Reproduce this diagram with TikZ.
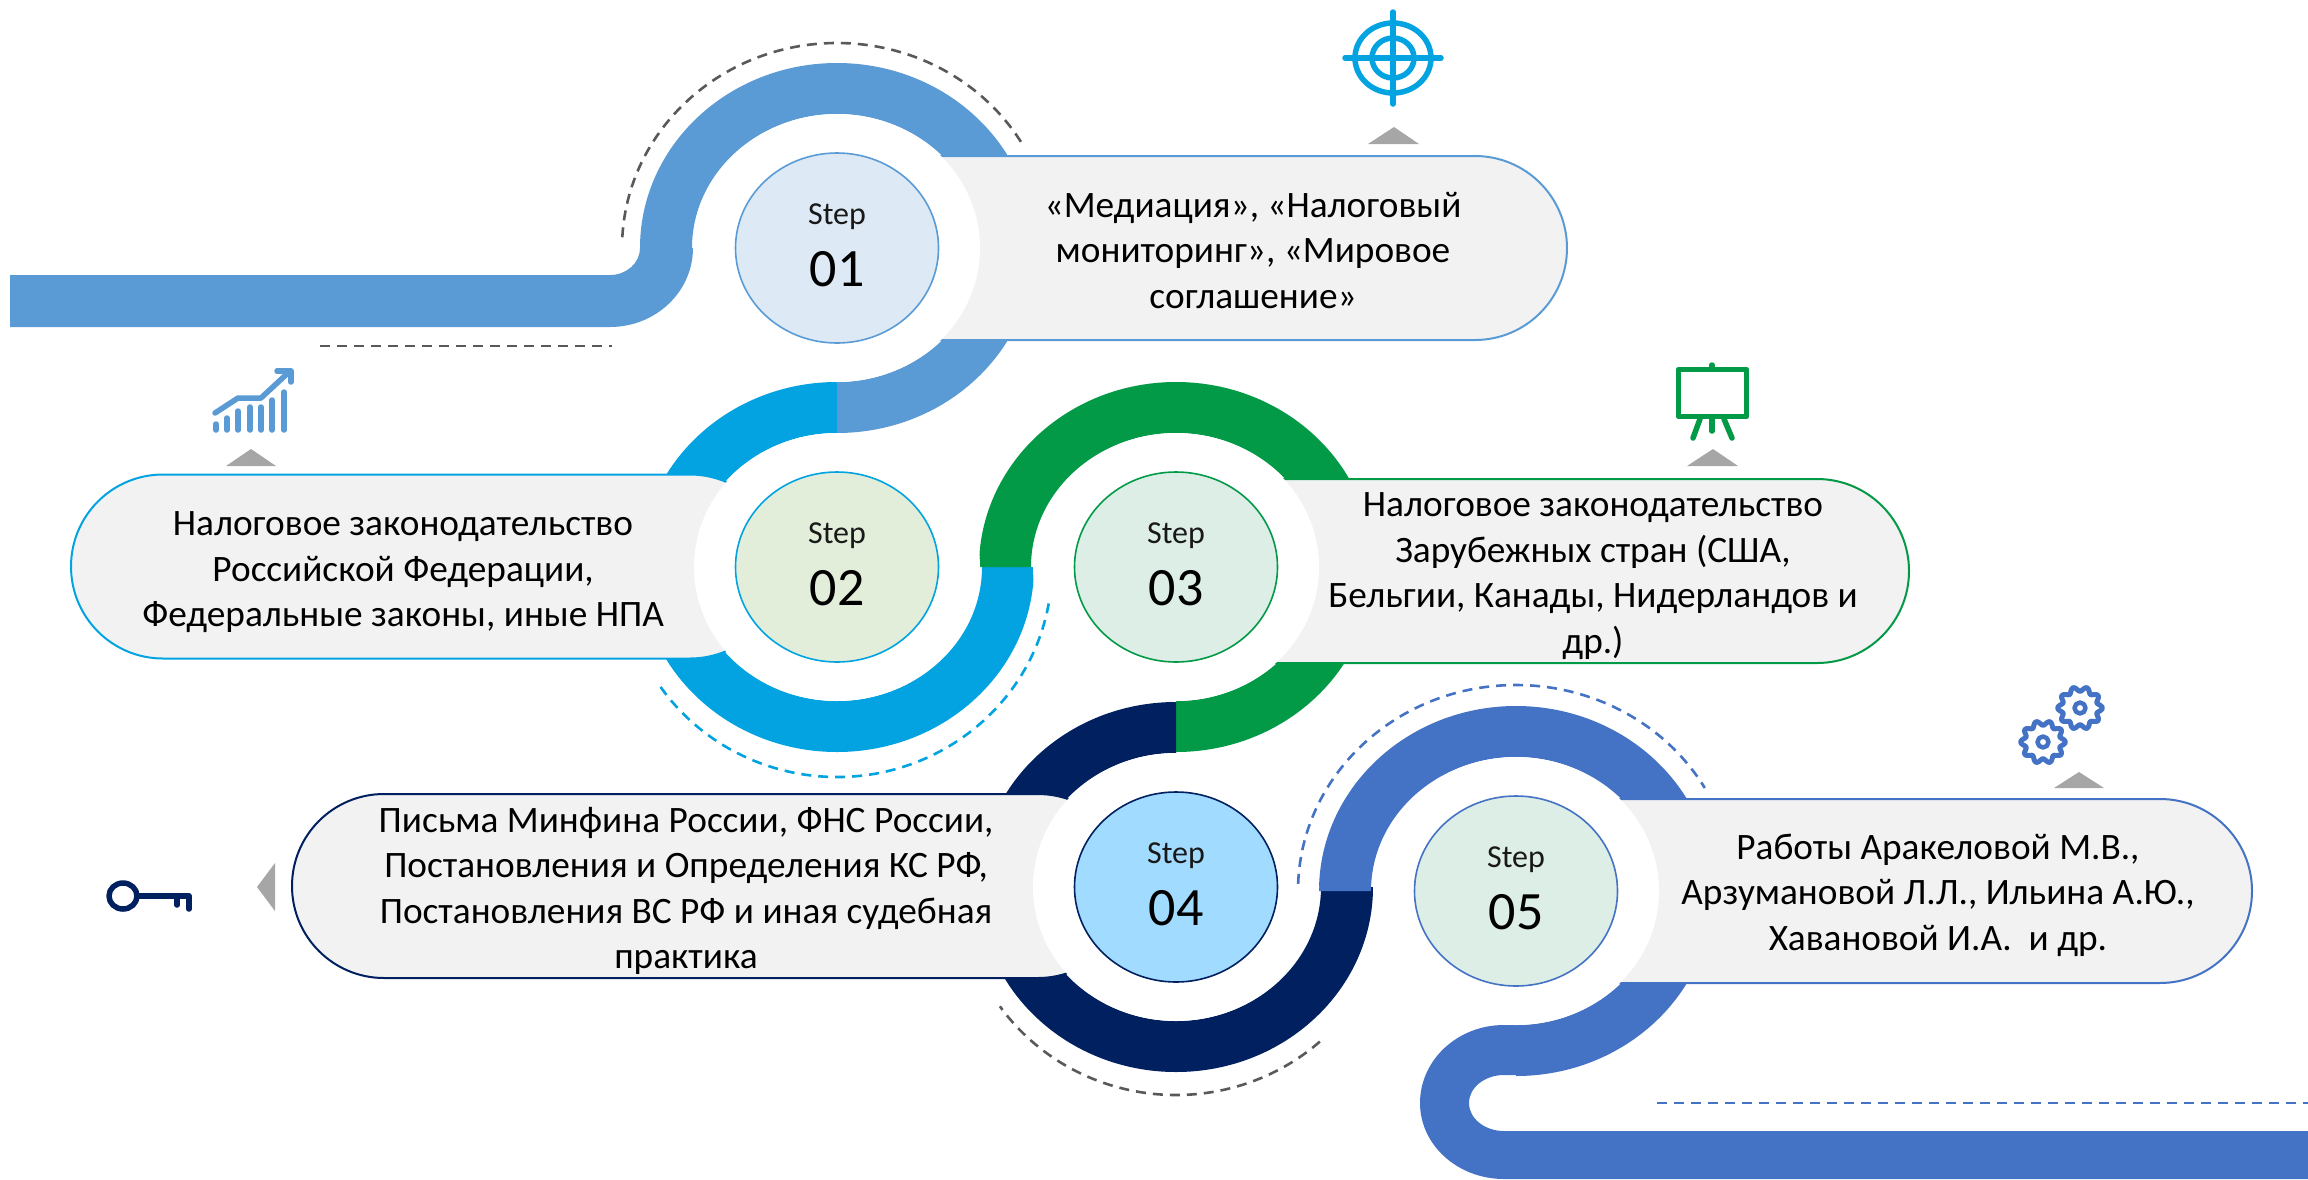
\documentclass[tikz,border=0pt]{standalone}
\usepackage{fontspec}
\setmainfont{Carlito}
\usetikzlibrary{positioning, shapes.geometric}
\definecolor{bandA}{HTML}{5B9BD5}
\definecolor{bandB}{HTML}{02A3E0}
\definecolor{bandC}{HTML}{029A46}
\definecolor{bandD}{HTML}{002060}
\definecolor{bandE}{HTML}{4472C4}
\definecolor{dashgray}{HTML}{595959}
\definecolor{tipgray}{HTML}{A6A6A6}
\definecolor{boxfill}{HTML}{F2F2F2}
\definecolor{stepa}{HTML}{DDE9F5}
\definecolor{stepb}{HTML}{E2EEDA}
\definecolor{stepc}{HTML}{DDEEE7}
\definecolor{stepd}{HTML}{A1DBFF}
\newcommand{\ringband}[4]{\fill[#2, shift={(#1)}] (#3:197 and 185) arc[start angle=#3, end angle=#4, x radius=197, y radius=185] -- (#4:145 and 134) arc[start angle=#4, end angle=#3, x radius=145, y radius=134] -- cycle;}
\begin{document}
\begin{tikzpicture}[x=1pt, y=-1pt, on grid,
    box/.style={rectangle, draw=#1, line width=2pt, fill=boxfill, rounded corners=92pt, minimum height=184pt, inner sep=0pt, outer sep=0pt},
    halo/.style={ellipse, fill=white, minimum width=286pt, minimum height=268pt, inner sep=0pt, outer sep=0pt},
    disc/.style={ellipse, draw=#1, line width=1.6pt, minimum width=203pt, minimum height=190pt, inner sep=0pt, outer sep=0pt},
    txt/.style={align=center, inner sep=0pt, font=\fontsize{37.3}{45.5}\selectfont},
    topword/.style={yshift=31pt, inner sep=0pt, text=black!90, font=\fontsize{32}{36}\selectfont},
    num/.style={yshift=-21.5pt, inner sep=0pt, font=\fontsize{54}{60}\selectfont},
    dashline/.style={draw=#1, line width=2.6pt, dash pattern=on 10pt off 7pt},
    tipmark/.style={fill=tipgray},
    icon/.style={draw=#1, line width=5.5pt, line cap=round, line join=round}]
  \useasboundingbox (0,0) rectangle (2308,1179);
  \coordinate (c1) at (837,248);
  \coordinate[below=319pt of c1] (c2);
  \coordinate[right=339pt of c2] (c3);
  \coordinate[below=320pt of c3] (c4);
  \coordinate[below right=4pt and 340pt of c4] (c5);
  % bands
  \fill[bandA] (10,275) -- (610,275) arc[start angle=90, end angle=0, x radius=30, y radius=27] -- (693,248) arc[start angle=0, end angle=90, x radius=83, y radius=79] -- (10,327) -- cycle;
  \ringband{c1}{bandA}{180}{450}
  \ringband{c2}{bandB}{270}{0}
  \ringband{c3}{bandC}{180}{450}
  \ringband{c4}{bandD}{270}{0}
  \ringband{c5}{bandE}{180}{450}
  \fill[bandE] (1516,1025) -- (1504,1025) arc[start angle=270, end angle=180, x radius=84, y radius=78] arc[start angle=180, end angle=90, x radius=84, y radius=76] -- (2308,1179) -- (2308,1131) -- (1504,1131) arc[start angle=90, end angle=270, x radius=35, y radius=28] -- (1516,1075) -- cycle;
  % boxes
  \node[box=bandA, minimum width=737pt] (b1) at (1198.5,248) {};
  \node[box=bandB, minimum width=711pt] (b2) at (426.5,566.5) {};
  \node[box=bandC, minimum width=739pt] (b3) at (1539.5,571) {};
  \node[box=bandD, minimum width=838pt] (b4) at (711,886) {};
  \node[box=bandE, minimum width=742pt] (b5) at (1881,891) {};
  \node[txt] (t1) at (1253,250.5) {«Медиация», «Налоговый\\мониторинг», «Мировое\\соглашение»};
  \node[txt] (t2) at (403,572.5) {Налоговое законодательство\\Российской Федерации,\\Федеральные законы, иные НПА};
  \node[txt] (t3) at (1593,576) {Налоговое законодательство\\Зарубежных стран (США,\\Бельгии, Канады, Нидерландов и\\др.)};
  \node[txt] (t4) at (686,891) {Письма Минфина России, ФНС России,\\Постановления и Определения КС РФ,\\Постановления ВС РФ и иная судебная\\практика};
  \node[txt] (t5) at (1938,895) {Работы Аракеловой М.В.,\\Арзумановой Л.Л., Ильина А.Ю.,\\Хавановой И.А.~~и др.};
  % step discs
  \node[halo] (h1) at (c1) {};
  \node[halo] (h2) at (c2) {};
  \node[halo] (h3) at (c3) {};
  \node[halo] (h4) at (c4) {};
  \node[halo] (h5) at (c5) {};
  \node[disc=bandA, fill=stepa, label={[topword]center:Step}, label={[num]center:01}] (s1) at (c1) {};
  \node[disc=bandB, fill=stepb, label={[topword]center:Step}, label={[num]center:02}] (s2) at (c2) {};
  \node[disc=bandC, fill=stepc, label={[topword]center:Step}, label={[num]center:03}] (s3) at (c3) {};
  \node[disc=bandD, fill=stepd, label={[topword]center:Step}, label={[num]center:04}] (s4) at (c4) {};
  \node[disc=bandE, fill=stepc, label={[topword]center:Step}, label={[num]center:05}] (s5) at (c5) {};
  % dashes
  \draw[dashline=dashgray, shift={(c1)}] (183:215 and 205) arc[start angle=183, end angle=330, x radius=215, y radius=205];
  \draw[dashline=dashgray] (320,346) -- (612,346);
  \draw[dashline=bandB, shift={(c2)}] (10:215 and 210) arc[start angle=10, end angle=146, x radius=215, y radius=210];
  \draw[dashline=dashgray, shift={(c4)}] (48:215 and 208) arc[start angle=48, end angle=145, x radius=215, y radius=208];
  \draw[dashline=bandE, shift={(c5)}] (182:218 and 206) arc[start angle=182, end angle=330, x radius=218, y radius=206];
  \draw[dashline=bandE] (1657,1103) -- (2308,1103);
  % triangles
  \fill[tipmark] (1368,144) -- (1394,127) -- (1419,144) -- cycle;
  \fill[tipmark] (226,466) -- (251,449) -- (276,466) -- cycle;
  \fill[tipmark] (1687,466) -- (1713,449) -- (1738,466) -- cycle;
  \fill[tipmark] (2054,788) -- (2079,772) -- (2104,788) -- cycle;
  \fill[tipmark] (275,863) -- (257,887) -- (275,911) -- cycle;
  % target
  \draw[icon=bandB] (1393,58) ellipse[x radius=38, y radius=35];
  \draw[icon=bandB] (1393,58) ellipse[x radius=21, y radius=20];
  \draw[icon=bandB] (1345,58) -- (1441,58);
  \draw[icon=bandB] (1393,12) -- (1393,104);
  % chart
  \draw[icon=bandA] (216,424) -- (216,430);
  \draw[icon=bandA] (227,418) -- (227,430);
  \draw[icon=bandA] (238,411) -- (238,430);
  \draw[icon=bandA] (250,407) -- (250,430);
  \draw[icon=bandA] (261,407) -- (261,430);
  \draw[icon=bandA] (272,400) -- (272,430);
  \draw[icon=bandA] (284,392) -- (284,430);
  \draw[icon=bandA] (215,413) -- (238,398) -- (261,398) -- (289,372);
  \draw[icon=bandA] (277,371) -- (291,371) -- (291,382);
  % easel
  \draw[icon=bandC] (1678.5,369.5) rectangle (1746.5,416.5);
  \draw[icon=bandC] (1712,365) -- (1712,369);
  \draw[icon=bandC] (1700,419) -- (1693,438);
  \draw[icon=bandC] (1712,419) -- (1712,431);
  \draw[icon=bandC] (1724,419) -- (1732,438);
  % gears
  \draw[icon=bandE, line width=5pt] plot[domain=0:360, samples=121, smooth] ({2080+(20+2.3*cos(10*\x))*cos(\x)}, {708+(19+2.3*cos(10*\x))*sin(\x)});
  \draw[icon=bandE, line width=5pt] plot[domain=0:360, samples=121, smooth] ({2043+(20+2.3*cos(10*\x))*cos(\x)}, {742+(19+2.3*cos(10*\x))*sin(\x)});
  \draw[icon=bandE, line width=4.5pt] (2080,708) circle[radius=5.5];
  \draw[icon=bandE, line width=4.5pt] (2043,742) circle[radius=5.5];
  % key
  \draw[icon=bandD] (123,896) ellipse[x radius=14, y radius=13];
  \draw[icon=bandD] (137,896) -- (189,896) -- (189,909);
  \draw[icon=bandD] (177,896) -- (177,905);
\end{tikzpicture}
\end{document}
